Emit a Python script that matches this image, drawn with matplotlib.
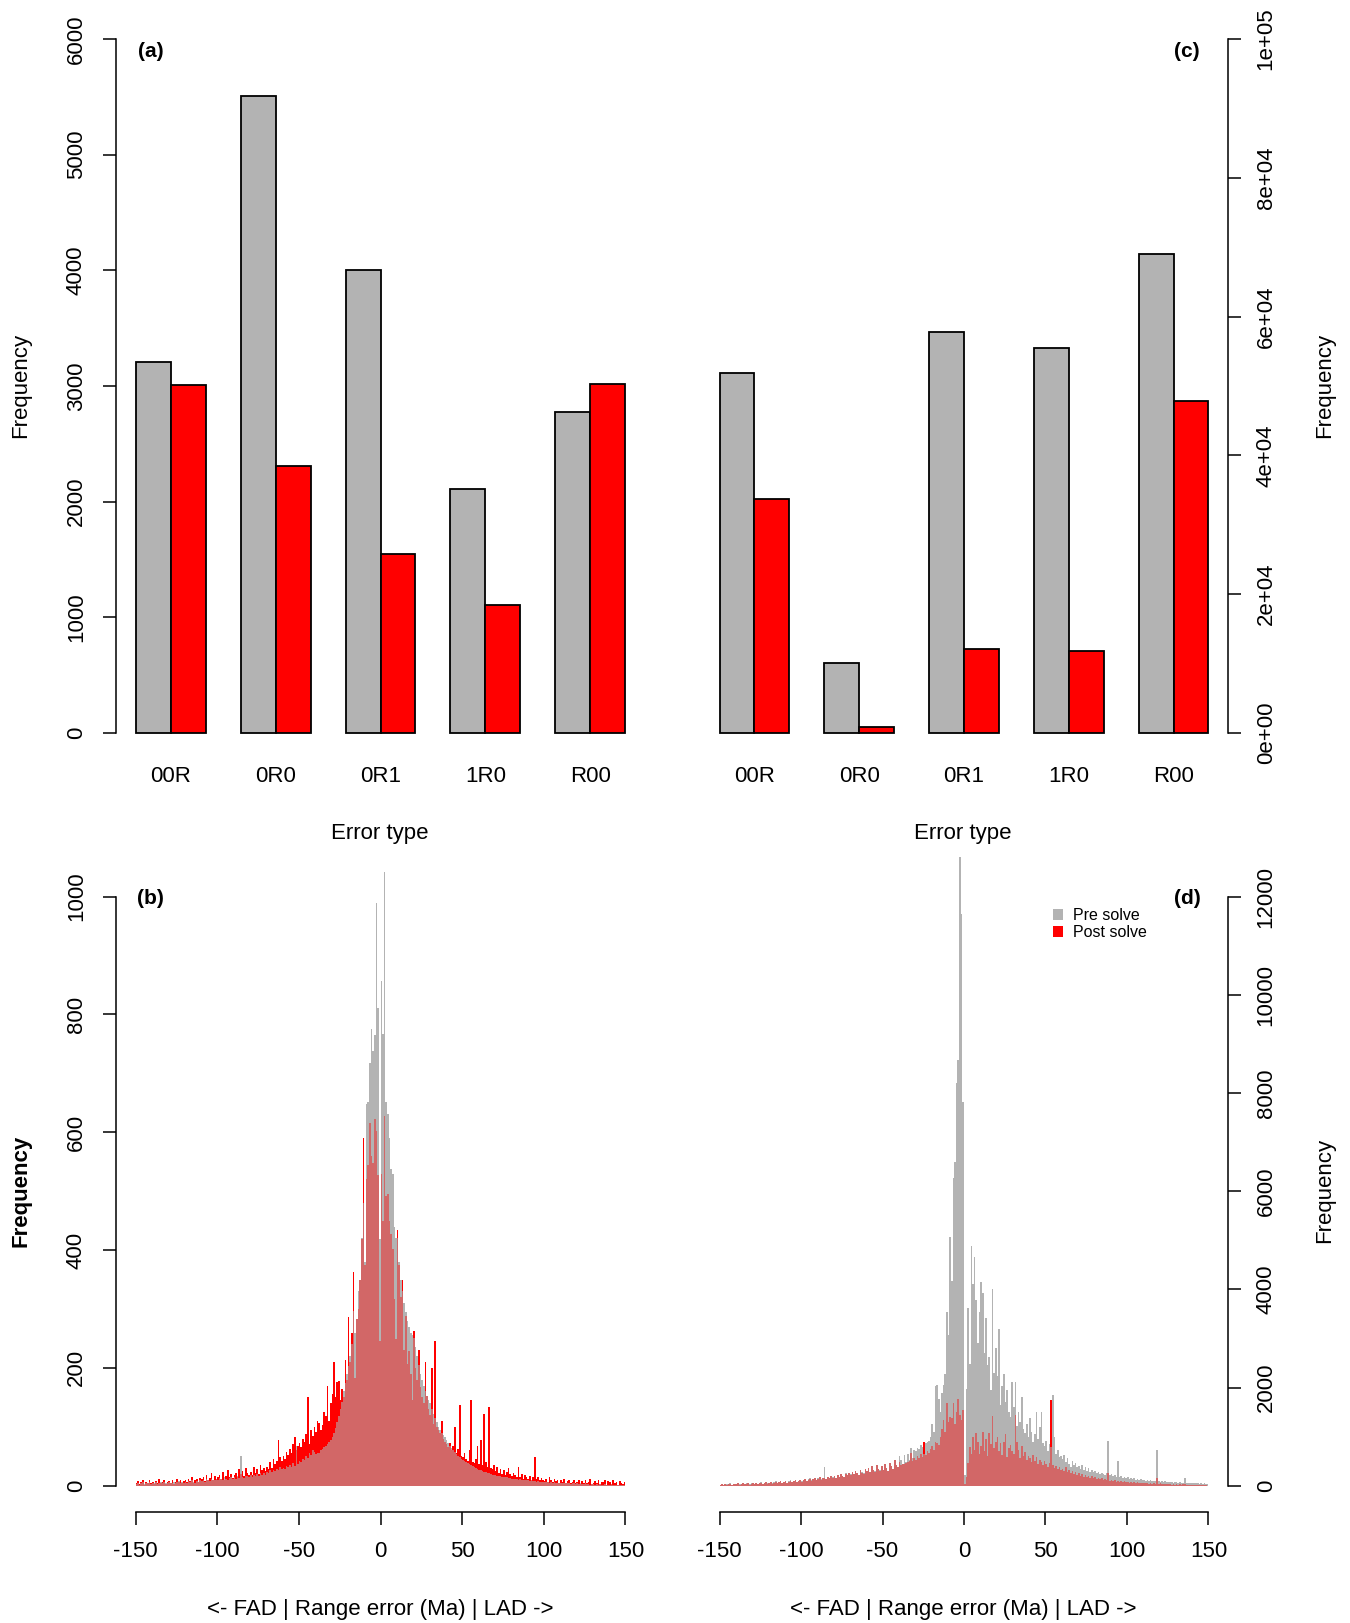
import numpy as np
import matplotlib
matplotlib.use("Agg")
import matplotlib.pyplot as plt
from matplotlib.patches import Patch

plt.rcParams['font.family'] = ['Liberation Sans', 'DejaVu Sans']
plt.rcParams['axes.unicode_minus'] = False

# ---------------- data ----------------
error_types = ["00R", "0R0", "0R1", "1R0", "R00"]
a_pre = [3205, 5510, 4000, 2110, 2775]
a_post = [3010, 2310, 1550, 1110, 3015]
c_pre = [51900, 10100, 57800, 55500, 69000]
c_post = [33700, 900, 12100, 11800, 47900]

bin_edges = np.arange(-150, 151, 1)

b_pre = [
    3, 5, 2, 4, 6, 3, 5, 4, 7, 3,
    5, 4, 6, 3, 5, 7, 4, 6, 5, 4,
    6, 5, 4, 7, 5, 6, 8, 5, 6, 4,
    7, 5, 8, 6, 9, 7, 5, 8, 6, 9,
    8, 10, 7, 12, 9, 8, 11, 10, 9, 12,
    10, 13, 11, 9, 14, 12, 10, 13, 15, 11,
    14, 12, 16, 13, 50, 15, 13, 17, 16, 14,
    18, 15, 19, 17, 20, 16, 21, 19, 22, 18,
    24, 21, 26, 23, 27, 25, 29, 26, 31, 28,
    30, 28, 33, 31, 35, 32, 38, 34, 68, 36,
    42, 40, 46, 43, 50, 47, 55, 52, 60, 58,
    53, 56, 55, 60, 62, 65, 68, 70, 75, 78,
    82, 90, 98, 108, 118, 130, 142, 160, 175, 190,
    203, 220, 240, 296, 260, 283, 330, 350, 420, 480,
    380, 648, 651, 718, 776, 738, 765, 989, 811, 418,
    857, 766, 1042, 652, 631, 591, 537, 530, 440, 420,
    420, 380, 350, 330, 310, 295, 280, 270, 260, 255,
    250, 235, 220, 205, 190, 180, 170, 160, 152, 146,
    140, 130, 122, 115, 108, 100, 95, 90, 86, 82,
    78, 72, 68, 64, 60, 57, 54, 51, 48, 46,
    44, 42, 40, 38, 36, 35, 33, 31, 30, 28,
    27, 26, 25, 24, 23, 22, 21, 20, 19, 18,
    18, 17, 16, 16, 15, 15, 14, 14, 13, 13,
    12, 12, 11, 11, 10, 11, 10, 9, 10, 9,
    9, 8, 9, 8, 8, 7, 8, 7, 7, 6,
    7, 6, 6, 5, 6, 5, 6, 5, 5, 4,
    5, 4, 5, 4, 4, 5, 3, 4, 4, 3,
    4, 3, 4, 3, 3, 4, 3, 3, 2, 3,
    3, 2, 3, 2, 3, 2, 2, 3, 2, 2,
    2, 3, 2, 2, 1, 2, 2, 1, 2, 1,
]

b_post = [
    4, 8, 3, 6, 9, 2, 7, 5, 10, 4,
    6, 3, 8, 5, 12, 4, 7, 9, 3, 6,
    8, 5, 10, 3, 7, 11, 6, 9, 4, 8,
    10, 6, 12, 8, 14, 5, 9, 11, 7, 13,
    11, 15, 8, 18, 10, 13, 22, 9, 16, 12,
    14, 19, 12, 24, 10, 17, 26, 15, 20, 13,
    18, 22, 15, 28, 20, 25, 16, 30, 21, 19,
    24, 18, 32, 22, 28, 20, 35, 26, 30, 25,
    32, 28, 40, 30, 45, 36, 42, 78, 48, 42,
    50, 45, 58, 52, 62, 55, 70, 83, 60, 68,
    72, 65, 80, 75, 88, 151, 70, 95, 85, 100,
    92, 110, 107, 95, 103, 125, 118, 169, 110, 140,
    155, 210, 150, 176, 178, 146, 164, 150, 214, 180,
    286, 210, 260, 363, 182, 283, 300, 349, 418, 591,
    374, 520, 545, 616, 560, 548, 623, 602, 527, 245,
    530, 449, 627, 491, 495, 450, 427, 402, 317, 249,
    434, 375, 320, 349, 231, 288, 206, 228, 190, 146,
    263, 199, 180, 231, 167, 150, 140, 210, 153, 130,
    120, 199, 105, 246, 100, 95, 90, 110, 80, 75,
    70, 65, 72, 60, 68, 100, 55, 62, 137, 50,
    48, 55, 45, 42, 60, 146, 40, 38, 45, 68,
    36, 78, 35, 121, 40, 32, 133, 30, 28, 35,
    25, 32, 22, 28, 20, 26, 18, 24, 30, 20,
    16, 22, 18, 14, 32, 15, 20, 12, 18, 14,
    12, 16, 10, 14, 48, 11, 15, 9, 13, 10,
    8, 12, 7, 14, 9, 6, 11, 8, 10, 5,
    9, 6, 12, 4, 8, 10, 5, 7, 9, 4,
    6, 10, 3, 8, 5, 9, 4, 7, 11, 3,
    5, 8, 4, 10, 3, 7, 6, 9, 2, 8,
    6, 3, 9, 4, 7, 2, 8, 5, 3, 6,
]

d_pre = [
    20, 35, 15, 40, 25, 30, 45, 20, 35, 40,
    30, 50, 25, 40, 55, 30, 45, 60, 25, 45,
    50, 35, 60, 40, 50, 70, 35, 55, 75, 45,
    60, 80, 45, 70, 90, 50, 75, 95, 60, 85,
    100, 65, 90, 110, 75, 95, 120, 80, 105, 125,
    90, 115, 135, 100, 130, 150, 110, 140, 160, 120,
    150, 175, 130, 165, 390, 140, 180, 155, 195, 170,
    200, 160, 220, 180, 240, 200, 175, 250, 215, 260,
    230, 280, 240, 300, 260, 220, 320, 270, 250, 340,
    300, 360, 280, 400, 330, 290, 420, 350, 310, 400,
    330, 440, 370, 300, 460, 400, 350, 520, 420, 380,
    600, 517, 450, 620, 480, 640, 520, 776, 560, 720,
    700, 760, 740, 820, 780, 650, 860, 900, 905, 1000,
    1250, 1100, 2040, 2060, 1760, 1510, 1890, 2060, 2280, 3530,
    3080, 5070, 4180, 6270, 6590, 8200, 8670, 12800, 11650, 7815,
    215, 1980, 3620, 2485, 4880, 4100, 4650, 3780, 2900, 3530,
    4140, 3920, 2700, 3420, 2460, 2630, 1940, 4010, 2300, 2800,
    2240, 3190, 1640, 2030, 2280, 1700, 1940, 1500, 1400, 2110,
    1600, 2110, 1210, 1500, 1300, 1810, 1150, 1080, 1250, 1000,
    1380, 1100, 900, 1050, 1510, 950, 1200, 1510, 880, 800,
    920, 700, 850, 780, 1850, 1000, 650, 720, 580, 600,
    540, 620, 480, 560, 450, 390, 500, 420, 460, 380,
    400, 350, 420, 330, 380, 300, 360, 280, 320, 270,
    300, 250, 280, 230, 260, 240, 220, 250, 905, 210,
    230, 190, 210, 180, 500, 170, 200, 160, 185, 150,
    170, 140, 160, 130, 155, 125, 145, 120, 135, 110,
    125, 105, 115, 100, 110, 95, 105, 90, 733, 100,
    85, 95, 80, 90, 75, 85, 70, 80, 65, 75,
    70, 60, 72, 55, 65, 150, 58, 62, 50, 55,
    48, 55, 45, 52, 40, 50, 42, 46, 38, 44,
]

d_post = [
    15, 30, 10, 35, 20, 25, 40, 15, 30, 35,
    25, 45, 20, 35, 50, 25, 40, 55, 20, 40,
    45, 30, 55, 35, 45, 65, 30, 50, 70, 40,
    55, 75, 40, 65, 85, 45, 70, 90, 55, 80,
    95, 60, 85, 105, 70, 90, 115, 75, 100, 120,
    85, 110, 130, 95, 125, 145, 105, 135, 155, 115,
    145, 170, 125, 160, 150, 135, 175, 150, 190, 165,
    195, 155, 215, 175, 235, 195, 170, 245, 210, 255,
    225, 275, 235, 295, 255, 215, 315, 265, 245, 335,
    295, 355, 275, 395, 325, 285, 415, 345, 305, 395,
    325, 435, 365, 295, 455, 395, 345, 515, 415, 375,
    480, 420, 440, 450, 470, 480, 500, 670, 500, 560,
    520, 600, 560, 650, 580, 890, 620, 700, 660, 750,
    800, 720, 900, 860, 820, 1000, 1160, 1340, 1100, 1680,
    1305, 1400, 1380, 1680, 1250, 1500, 1770, 1450, 1343, 1550,
    40, 180, 470, 780, 650, 1000, 720, 1080, 900, 650,
    800, 1100, 700, 950, 600, 1080, 850, 1420, 760, 900,
    1000, 700, 880, 620, 900, 1050, 580, 760, 820, 700,
    650, 1440, 900, 720, 560, 800, 600, 680, 520, 600,
    560, 480, 620, 500, 580, 450, 520, 480, 420, 500,
    440, 380, 460, 1740, 420, 360, 400, 340, 380, 320,
    350, 300, 380, 280, 330, 260, 300, 240, 280, 220,
    250, 200, 230, 180, 210, 170, 200, 160, 190, 150,
    170, 140, 160, 130, 150, 120, 140, 110, 250, 100,
    120, 95, 110, 85, 100, 80, 95, 75, 90, 70,
    85, 65, 80, 60, 75, 55, 70, 50, 65, 45,
    60, 45, 55, 40, 50, 38, 48, 35, 150, 32,
    45, 30, 40, 28, 38, 25, 35, 22, 32, 20,
    30, 18, 28, 16, 25, 40, 22, 14, 20, 12,
    18, 10, 16, 8, 14, 6, 12, 5, 10, 4,
]

hist_ticks = [-150, -100, -50, 0, 50, 100, 150]
b_yticks = [0, 200, 400, 600, 800, 1000]
d_yticks = [0, 2000, 4000, 6000, 8000, 10000, 12000]
a_yticks = [0, 1000, 2000, 3000, 4000, 5000, 6000]
c_yticks = [0, 20000, 40000, 60000, 80000, 100000]
c_ylabels = ["0e+00", "2e+04", "4e+04", "6e+04", "8e+04", "1e+05"]

# ---------------- style ----------------
GREY = "#B3B3B3"
RED = "#FF0000"
FS = 16
TICKLEN = 9.4
W, H = 1350, 1623

fig = plt.figure(figsize=(W / 100, H / 100), dpi=100)


def axes_px(l, t, r, b):
    return fig.add_axes([l / W, 1 - b / H, (r - l) / W, (b - t) / H])


def ftext(x, y, s, **kw):
    fig.text(x / W, 1 - y / H, s, **kw)


# ---------------- bar charts ----------------
def barpanel(ax, pre, post, side):
    n = len(pre)
    gpos = np.arange(n) * 3 + 1
    ax.bar(gpos, pre, width=1, align='edge', color=GREY, edgecolor='black', linewidth=1.3)
    ax.bar(gpos + 1, post, width=1, align='edge', color=RED, edgecolor='black', linewidth=1.3)
    ax.set_xlim(0.44, 15.56)
    ax.set_xticks(gpos + 1)
    ax.set_xticklabels(error_types, fontsize=FS)
    ax.tick_params(axis='x', length=0, pad=4)
    for s in ['top', 'bottom', 'left', 'right']:
        ax.spines[s].set_visible(False)
    ax.spines[side].set_visible(True)
    ax.spines[side].set_linewidth(1.1)
    ax.patch.set_alpha(0)


ax_a = axes_px(116, 11.6, 645, 760.7)
barpanel(ax_a, a_pre, a_post, 'left')
ax_a.set_ylim(-239.6, 6236)
ax_a.set_yticks(a_yticks)
ax_a.set_yticklabels([str(v) for v in a_yticks])
ax_a.spines['left'].set_bounds(0, 6000)
ax_a.tick_params(axis='y', length=TICKLEN, width=1.1, labelsize=FS, labelrotation=90, pad=11.5)
for t in ax_a.get_yticklabels():
    t.set_va('center')

ax_c = axes_px(700, 11.6, 1228, 760.7)
barpanel(ax_c, c_pre, c_post, 'right')
ax_c.set_ylim(-3993, 103936)
ax_c.yaxis.tick_right()
ax_c.set_yticks(c_yticks)
ax_c.set_yticklabels(c_ylabels)
ax_c.spines['right'].set_bounds(0, 100000)
ax_c.tick_params(axis='y', length=TICKLEN, width=1.1, labelsize=FS, labelrotation=90, pad=10.5)
for t in ax_c.get_yticklabels():
    t.set_va('center')

# ---------------- histograms ----------------
def histpanel(ax, pre, post, side, yticks):
    ax.stairs(pre, bin_edges, fill=True, color=GREY, linewidth=0)
    ax.stairs(post, bin_edges, fill=True, color=RED, linewidth=0)
    ax.stairs(pre, bin_edges, fill=True, color=GREY, alpha=0.58, linewidth=0)
    ax.set_xlim(-162, 162)
    ax.set_xticks(hist_ticks)
    ax.set_xticklabels([str(v) for v in hist_ticks])
    for s in ['top', 'bottom', 'left', 'right']:
        ax.spines[s].set_visible(False)
    ax.spines['bottom'].set_visible(True)
    ax.spines['bottom'].set_bounds(-150, 150)
    ax.spines['bottom'].set_linewidth(1.1)
    ax.spines[side].set_visible(True)
    ax.spines[side].set_bounds(yticks[0], yticks[-1])
    ax.spines[side].set_linewidth(1.1)
    ax.tick_params(axis='x', length=TICKLEN, width=1.1, labelsize=FS, pad=11.5)
    ax.set_yticks(yticks)
    ax.set_yticklabels([str(v) for v in yticks])
    ax.patch.set_alpha(0)


ax_b = axes_px(116, 848.6, 645, 1511.5)
histpanel(ax_b, b_pre, b_post, 'left', b_yticks)
ax_b.set_ylim(-43.8, 1081.6)
ax_b.tick_params(axis='y', length=TICKLEN, width=1.1, labelsize=FS, labelrotation=90, pad=11.5)
for t in ax_b.get_yticklabels():
    t.set_va('center')

ax_d = axes_px(700, 848.6, 1228, 1511.5)
histpanel(ax_d, d_pre, d_post, 'right', d_yticks)
ax_d.set_ylim(-525.5, 12980)
ax_d.yaxis.tick_right()
ax_d.tick_params(axis='y', length=TICKLEN, width=1.1, labelsize=FS, labelrotation=90, pad=10.5)
for t in ax_d.get_yticklabels():
    t.set_va('center')

handles = [Patch(facecolor=GREY, edgecolor='none', label='Pre solve'),
           Patch(facecolor=RED, edgecolor='none', label='Post solve')]
fig.legend(handles=handles, loc='upper left', bbox_to_anchor=(1053 / W, 1 - 908 / H),
           frameon=False, fontsize=11.5, handlelength=0.65, handleheight=0.65,
           handletextpad=0.6, labelspacing=0.15, borderpad=0, borderaxespad=0)

# ---------------- labels ----------------
ftext(137.7, 51.8, "(a)", fontsize=15, fontweight='bold', ha='left', va='center')
ftext(1200, 51.8, "(c)", fontsize=15, fontweight='bold', ha='right', va='center')
ftext(136.7, 898.6, "(b)", fontsize=15, fontweight='bold', ha='left', va='center')
ftext(1201, 898.6, "(d)", fontsize=15, fontweight='bold', ha='right', va='center')

ftext(21, 385, "Frequency", fontsize=FS, rotation=90, ha='center', va='center')
ftext(1325, 385, "Frequency", fontsize=FS, rotation=90, ha='center', va='center')
ftext(21, 1190.6, "Frequency", fontsize=FS, fontweight='bold', rotation=90, ha='center', va='center')
ftext(1325, 1190.6, "Frequency", fontsize=FS, rotation=90, ha='center', va='center')

ftext(380, 833, "Error type", fontsize=FS, ha='center', va='center')
ftext(963, 833, "Error type", fontsize=FS, ha='center', va='center')
ftext(380, 1609, "<- FAD | Range error (Ma) | LAD ->", fontsize=FS, ha='center', va='center')
ftext(963, 1609, "<- FAD | Range error (Ma) | LAD ->", fontsize=FS, ha='center', va='center')

fig.savefig("out.png", dpi=100)
